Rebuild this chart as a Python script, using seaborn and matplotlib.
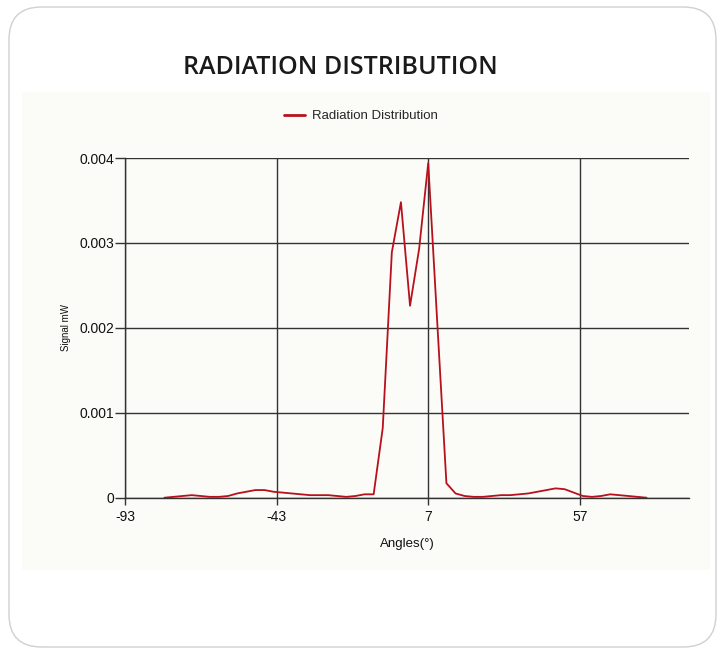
import matplotlib
matplotlib.use("Agg")
import matplotlib.pyplot as plt
from matplotlib.patches import FancyBboxPatch, Rectangle
import seaborn as sns
import pandas as pd

# data
angles = [-80, -77, -74, -71, -68, -65, -62, -59, -56, -53, -50, -47, -44, -41,
          -38, -35, -32, -29, -26, -23, -20, -17, -14, -11, -8, -5, -2, 1, 4, 7,
          10, 13, 16, 19, 22, 25, 28, 31, 34, 37, 40, 43, 46, 49, 52, 55, 58,
          61, 64, 67, 70, 73, 76, 79]
signal = [0.0, 0.00001, 0.00002, 0.00003, 0.00002, 0.00001, 0.00001, 0.00002,
          0.00005, 0.00007, 0.00009, 0.00009, 0.00007, 0.00006, 0.00005, 0.00004,
          0.00003, 0.00003, 0.00003, 0.00002, 0.00001, 0.00002, 0.00004, 0.00004,
          0.00082, 0.00289, 0.00348, 0.00226, 0.00293, 0.00394, 0.00205, 0.00017,
          0.00005, 0.00002, 0.00001, 0.00001, 0.00002, 0.00003, 0.00003, 0.00004,
          0.00005, 0.00007, 0.00009, 0.00011, 0.0001, 0.00006, 0.00002, 0.00001,
          0.00002, 0.00004, 0.00003, 0.00002, 0.00001, 0.0]
xticks = [-93, -43, 7, 57]
yticks = [0, 0.001, 0.002, 0.003, 0.004]
ytick_labels = ["0", "0.001", "0.002", "0.003", "0.004"]

df = pd.DataFrame({"Angles": angles, "Signal": signal})

sns.set_theme(style="white")
plt.rcParams['font.family'] = ['Liberation Sans', 'DejaVu Sans']

fig = plt.figure(figsize=(7.25, 6.56), dpi=100)
W, H = 725, 656

# rounded card and chart panel, kept behind the axes
card = FancyBboxPatch((9 / W, 9 / H), 707 / W, 640 / H,
                      boxstyle="round,pad=0,rounding_size=0.045",
                      transform=fig.transFigure, facecolor="white",
                      edgecolor="#d0d0d0", linewidth=1.0, mutation_aspect=W / H,
                      zorder=-10)
fig.patches.append(card)
panel = Rectangle((22 / W, 1 - 570 / H), 688 / W, 478 / H,
                  transform=fig.transFigure, facecolor="#fbfbf8", edgecolor="none",
                  zorder=-9)
fig.patches.append(panel)

fig.text(340 / W, 1 - 68 / H, "RADIATION DISTRIBUTION", ha="center", va="center",
         fontsize=18, fontweight="semibold", family=["Open Sans", "DejaVu Sans"],
         color="#1a1a1a")

ax = fig.add_axes([125 / W, 1 - 497.7 / H, 564 / W, 339.7 / H])
ax.set_facecolor("none")
sns.lineplot(data=df, x="Angles", y="Signal", ax=ax, color="#b8101c",
             linewidth=1.3, label="Radiation Distribution")

ax.set_xlim(-93, 93)
ax.set_ylim(0, 0.004)
ax.set_xticks(xticks)
ax.set_xticklabels([str(t) for t in xticks])
ax.set_yticks(yticks)
ax.set_yticklabels(ytick_labels)
ax.grid(True, color="#333333", linewidth=1.0)
ax.set_axisbelow(True)
for s in ["top", "right"]:
    ax.spines[s].set_visible(False)
for s in ["left", "bottom"]:
    ax.spines[s].set_color("#333333")
    ax.spines[s].set_linewidth(1.0)
ax.tick_params(axis="y", which="major", length=7, width=1.0, color="#333333",
               labelsize=10, labelcolor="#111111", direction="out", pad=1,
               left=True)
ax.tick_params(axis="x", which="major", length=5, width=1.0, color="#333333",
               labelsize=10, labelcolor="#111111", direction="out", pad=4,
               bottom=True)
ax.set_xlabel("Angles(°)", fontsize=9.5, color="#111111", labelpad=10)
ax.set_ylabel("Signal mW", fontsize=7, color="#111111", labelpad=6)

leg = ax.legend(loc="lower center", bbox_to_anchor=(0.418, 1.07), frameon=False,
                fontsize=9.5, handlelength=1.6, handletextpad=0.5)
for h in leg.get_lines():
    h.set_linewidth(2.0)

fig.savefig("out.png", dpi=100, facecolor="white")
